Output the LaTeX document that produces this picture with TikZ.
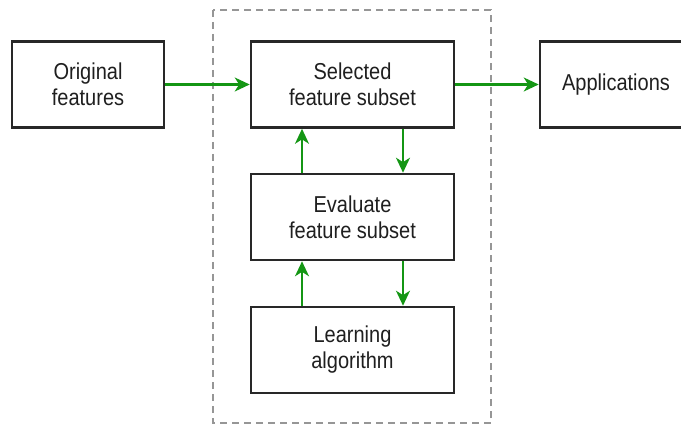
\documentclass[tikz,border=0pt]{standalone}
\usepackage{fontspec}
\setmainfont[FakeStretch=0.87]{Liberation Sans}
\usetikzlibrary{arrows.meta}
\definecolor{arrgreen}{RGB}{20,150,20}
\definecolor{boxline}{RGB}{40,40,40}
\definecolor{dashgray}{RGB}{150,150,150}
\tikzset{
  procbox/.style={draw=boxline, line width=2.6pt, fill=white, minimum height=86pt,
    align=center, text=black!88, font=\fontsize{23}{26}\selectfont, inner sep=0pt},
  flow/.style={draw=arrgreen, line width=2.2pt, -{Stealth[length=15pt,width=14pt,inset=4.5pt]}},
  groupbox/.style={draw=dashgray, line width=2pt, dash pattern=on 7pt off 5pt}
}
\begin{document}
\begin{tikzpicture}[x=1pt,y=-1pt]
\useasboundingbox (0,0) rectangle (681,425);
\clip (0,0) rectangle (681,425);
\draw[groupbox] (213,10) rectangle (491,423);
\node[procbox, minimum width=152pt] (orig) at (88,84.5) {Original\\features};
\node[procbox, minimum width=203pt] (sel) at (352.5,84.5) {Selected\\feature subset};
\node[procbox, minimum width=152pt] (app) at (616,84.5) {Applications};
\node[procbox, minimum width=203pt] (eval) at (352.5,217) {Evaluate\\feature subset};
\node[procbox, minimum width=203pt] (learn) at (352.5,350) {Learning\\algorithm};
\draw[flow] (orig.east) -- (sel.west);
\draw[flow] (sel.east) -- (app.west);
\draw[flow] ([xshift=-50.5pt]eval.north) -- ([xshift=-50.5pt]sel.south);
\draw[flow] ([xshift=50.5pt]sel.south) -- ([xshift=50.5pt]eval.north);
\draw[flow] ([xshift=-50.5pt]learn.north) -- ([xshift=-50.5pt]eval.south);
\draw[flow] ([xshift=50.5pt]eval.south) -- ([xshift=50.5pt]learn.north);
\end{tikzpicture}
\end{document}
